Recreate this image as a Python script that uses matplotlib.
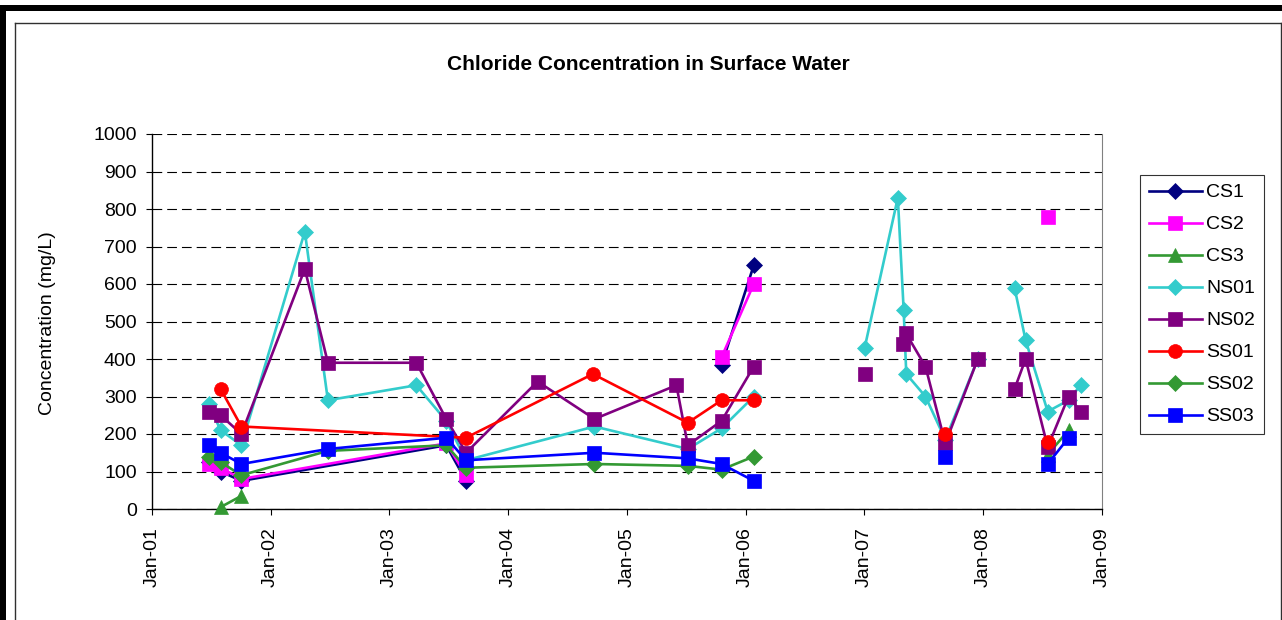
import matplotlib
matplotlib.use("Agg")
import numpy as np
import matplotlib.pyplot as plt
import matplotlib.dates as mdates
from matplotlib.lines import Line2D
from matplotlib.patches import Rectangle

plt.rcParams["font.family"] = ["Liberation Sans", "DejaVu Sans"]
plt.rcParams["lines.scale_dashes"] = False

# Sampling dates and chloride concentrations (mg/L); None marks a break in the line
cs1_dates = ["2001-06-24", "2001-07-31", "2001-10-03", "2003-06-25", "2003-08-25", None,
             "2005-10-19", "2006-01-26"]
cs1_vals = [125, 100, 75, 170, 75, None, 385, 650]

cs2_dates = ["2001-06-24", "2001-07-31", "2001-10-03", "2003-06-25", "2003-08-25", None,
             "2005-10-19", "2006-01-26", None, "2008-07-18"]
cs2_vals = [120, 110, 80, 175, 90, None, 405, 600, None, 780]

cs3_dates = ["2001-07-31", "2001-10-03", None, "2008-07-18", "2008-09-20"]
cs3_vals = [5, 35, None, 145, 210]

ns01_dates = ["2001-06-24", "2001-07-31", "2001-10-03", "2002-04-16", "2002-06-26",
              "2003-03-25", "2003-06-25", "2003-08-25", "2004-09-23", "2005-07-07",
              "2005-10-19", "2006-01-26", None,
              "2007-01-02", "2007-04-14", "2007-05-02", "2007-05-10", "2007-07-08",
              "2007-09-07", "2007-12-16", None,
              "2008-04-07", "2008-05-11", "2008-07-18", "2008-09-20", "2008-10-27"]
ns01_vals = [280, 210, 170, 740, 290, 330, 235, 130, 220, 160, 215, 300, None,
             430, 830, 530, 360, 300, 185, 400, None,
             590, 450, 260, 290, 330]

ns02_dates = ["2001-06-24", "2001-07-31", "2001-10-03", "2002-04-16", "2002-06-26",
              "2003-03-25", "2003-06-25", "2003-08-25", "2004-04-01", "2004-09-23",
              "2005-06-02", "2005-07-07", "2005-10-19", "2006-01-26", None,
              "2007-01-02", None,
              "2007-04-30", "2007-05-08", "2007-07-08", "2007-09-07", "2007-12-16", None,
              "2008-04-07", "2008-05-11", "2008-07-18", "2008-09-20", "2008-10-27"]
ns02_vals = [260, 250, 200, 640, 390, 390, 240, 150, 340, 240, 330, 170, 235, 380, None,
             360, None,
             440, 470, 380, 175, 400, None,
             320, 400, 165, 300, 260]

ss01_dates = ["2001-07-31", "2001-10-03", "2003-08-25", "2004-09-18", "2005-07-07",
              "2005-10-19", "2006-01-26", None, "2007-09-07", None, "2008-07-18"]
ss01_vals = [320, 220, 190, 360, 230, 290, 290, None, 200, None, 180]

ss02_dates = ["2001-06-24", "2001-07-31", "2001-10-03", "2002-06-26", "2003-06-25",
              "2003-08-25", "2004-09-23", "2005-07-07", "2005-10-19", "2006-01-26"]
ss02_vals = [140, 125, 90, 155, 170, 110, 120, 115, 105, 140]

ss03_dates = ["2001-06-24", "2001-07-31", "2001-10-03", "2002-06-26", "2003-06-25",
              "2003-08-25", "2004-09-23", "2005-07-07", "2005-10-19", "2006-01-26", None,
              "2007-09-07", None, "2008-07-18", "2008-09-20"]
ss03_vals = [170, 150, 120, 160, 190, 130, 150, 135, 120, 75, None,
             140, None, 120, 190]

series_names = ["CS1", "CS2", "CS3", "NS01", "NS02", "SS01", "SS02", "SS03"]
series_data = [(cs1_dates, cs1_vals), (cs2_dates, cs2_vals), (cs3_dates, cs3_vals),
               (ns01_dates, ns01_vals), (ns02_dates, ns02_vals), (ss01_dates, ss01_vals),
               (ss02_dates, ss02_vals), (ss03_dates, ss03_vals)]
series_colors = ["#000080", "#FF00FF", "#339933", "#33CCCC", "#800080", "#FF0000",
                 "#339933", "#0000FF"]
series_markers = ["D", "s", "^", "D", "s", "o", "D", "s"]
series_msize = [8.5, 10, 10, 8.5, 10, 10, 8.5, 10]

y_ticks = list(range(0, 1001, 100))

W, H = 1282, 620
fig = plt.figure(figsize=(W / 100, H / 100), dpi=100)
fig.patch.set_facecolor("white")

# Outer frame: heavy black band on top and left, thin chart-area border inside
fig.add_artist(Rectangle((0, 1 - 11 / H), 1, 6 / H, transform=fig.transFigure,
                         facecolor="black", edgecolor="none"))
fig.add_artist(Rectangle((0, 0), 6 / W, 1 - 5 / H, transform=fig.transFigure,
                         facecolor="black", edgecolor="none"))
frame_kw = dict(transform=fig.transFigure, color="#303030", lw=1.0)
fig.add_artist(Line2D([15 / W, 1280.5 / W], [1 - 23 / H, 1 - 23 / H], **frame_kw))
fig.add_artist(Line2D([15 / W, 15 / W], [0, 1 - 23 / H], **frame_kw))
fig.add_artist(Line2D([1280.5 / W, 1280.5 / W], [0, 1 - 23 / H], **frame_kw))

ax = fig.add_axes([152 / W, 1 - 509 / H, 950 / W, 375 / H])


def to_xy(dates, vals):
    x = np.array([mdates.date2num(np.datetime64(d)) if d else np.nan for d in dates])
    y = np.array([v if v is not None else np.nan for v in vals], dtype=float)
    return x, y


for i, (name, (d, v)) in enumerate(zip(series_names, series_data)):
    x, y = to_xy(d, v)
    c = series_colors[i]
    ax.plot(x, y, color=c, lw=1.9, marker=series_markers[i], ms=series_msize[i],
            mfc=c, mec=c, mew=0.5, label=name, zorder=3 + i, clip_on=False)

ax.set_xlim(mdates.date2num(np.datetime64("2001-01-01")),
            mdates.date2num(np.datetime64("2009-01-01")))
ax.set_ylim(0, 1000)
ax.set_yticks(y_ticks)
ax.xaxis.set_major_locator(mdates.YearLocator())
ax.xaxis.set_major_formatter(mdates.DateFormatter("%b-%y"))
for lbl in ax.get_xticklabels():
    lbl.set_rotation(90)

ax.yaxis.grid(True, color="black", lw=0.8, linestyle=(0, (7, 3.6)))
ax.set_axisbelow(True)
ax.spines["top"].set_visible(False)
ax.spines["right"].set_color("#808080")
ax.spines["left"].set_linewidth(1.0)
ax.spines["bottom"].set_linewidth(1.0)
ax.tick_params(axis="both", direction="out", length=4, width=0.8, labelsize=14,
               colors="black")
ax.tick_params(axis="y", pad=7)
ax.tick_params(axis="x", pad=9)

fig.text(648 / W, 1 - 64 / H, "Chloride Concentration in Surface Water",
         ha="center", va="center", fontsize=15, fontweight="bold")
fig.text(48 / W, 1 - 323 / H, "Concentration (mg/L)", ha="center", va="center",
         rotation=90, fontsize=14)

leg = ax.legend(loc="upper left", bbox_to_anchor=(1140 / W, 1 - 175 / H),
                bbox_transform=fig.transFigure, borderaxespad=0, fontsize=14,
                frameon=True, fancybox=False, shadow=False, numpoints=1,
                handlelength=2.75, handletextpad=0.2, labelspacing=0.74,
                borderpad=0.45)
leg.get_frame().set_edgecolor("black")
leg.get_frame().set_linewidth(0.8)

fig.savefig("out.png", dpi=100, facecolor="white")
